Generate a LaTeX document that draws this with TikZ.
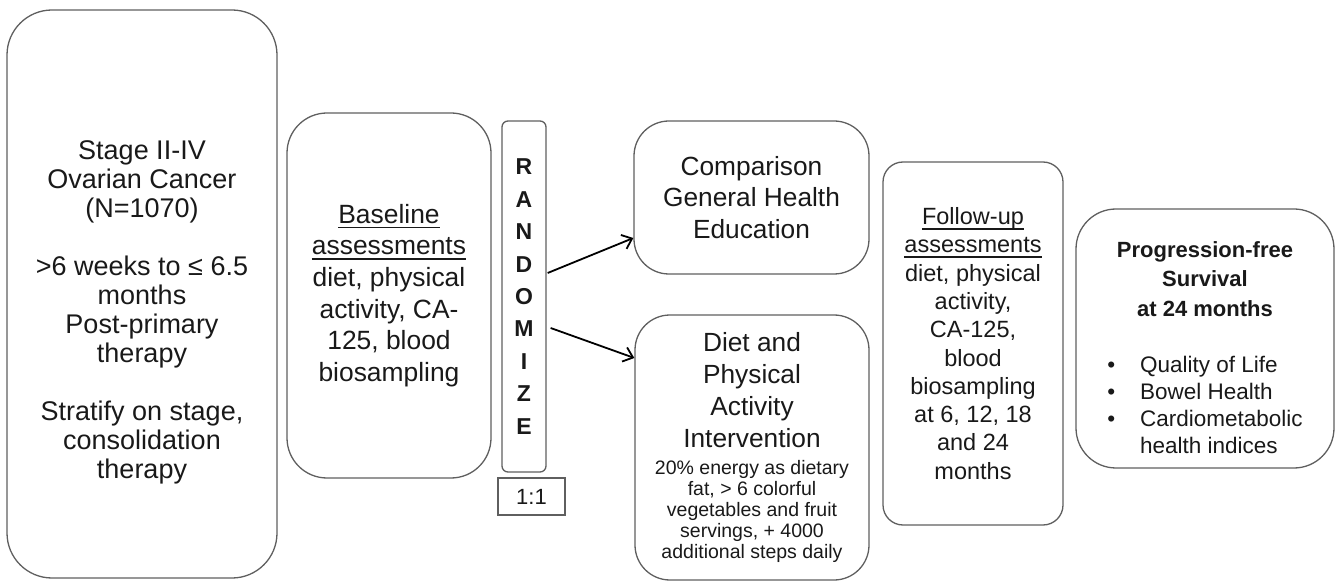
\documentclass[tikz,border=0pt]{standalone}
\usepackage{fontspec}
\setmainfont{Liberation Sans}
\usetikzlibrary{arrows.meta}
\definecolor{edge}{RGB}{95,95,95}
\definecolor{ink}{RGB}{25,25,25}
\newcommand{\myul}[1]{\leavevmode\setbox0=\hbox{#1}\rlap{\rule[-5pt]{\wd0}{1.5pt}}\box0}
\newcommand{\ctext}[2]{\parbox{#1}{\centering #2\par}}
\begin{document}
\begin{tikzpicture}[x=1pt,y=-1pt,
  box/.style={draw=edge, line width=1.3pt, rounded corners=#1, inner sep=0pt, text=ink},
  box/.default=35pt,
  arr/.style={-{Straight Barb[length=9pt,width=15pt]}, line width=1.8pt, black}]
\useasboundingbox (0,0) rectangle (1342,585);

\node[box=45pt, minimum width=270pt, minimum height=568pt] (pop) at (142,294)
  {\ctext{262pt}{\vspace*{36pt}\fontsize{27}{29}\selectfont Stage II-IV\\Ovarian Cancer\\(N=1070)\\[29pt]>6 weeks to ≤ 6.5\\months\\Post-primary\\therapy\\[29pt]Stratify on stage,\\consolidation\\therapy}};

\node[box=40pt, minimum width=204pt, minimum height=365pt] (base) at (389,295.5)
  {\ctext{198pt}{\fontsize{26.4}{31.7}\selectfont \myul{Baseline}\\\myul{assessments}\\diet, physical\\activity, CA-\\125, blood\\biosampling}};

\node[box=6pt, minimum width=44pt, minimum height=351pt] (rand) at (524,296.5)
  {\ctext{40pt}{\bfseries\fontsize{23}{32.4}\selectfont R\\A\\N\\D\\O\\M\\I\\Z\\E}};

\node[draw=edge, line width=1.1pt, minimum width=67pt, minimum height=37pt, inner sep=0pt, text=ink, font=\fontsize{22}{24}\selectfont] (ratio) at (531.5,496.5) {1:1};

\node[box=35pt, minimum width=235pt, minimum height=153pt] (comp) at (751.5,197.5)
  {\ctext{225pt}{\fontsize{26.3}{31.7}\selectfont Comparison\\General Health\\Education}};

\node[box=35pt, minimum width=234pt, minimum height=265pt] (diet) at (752,447.5)
  {\ctext{228pt}{{\fontsize{26.3}{32}\selectfont Diet and\\Physical\\Activity\\Intervention\par}\vspace{6pt}{\fontsize{19.5}{21}\selectfont 20\% energy as dietary\\fat, > 6 colorful\\vegetables and fruit\\servings, + 4000\\additional steps daily\par}}};

\node[box=20pt, minimum width=180pt, minimum height=363pt] (fu) at (973,343.5)
  {\ctext{176pt}{\fontsize{23.5}{28.3}\selectfont \myul{Follow-up}\\\myul{assessments}\\diet, physical\\activity,\\CA-125,\\blood\\biosampling\\at 6, 12, 18\\and 24\\months}};

\node[box=40pt, minimum width=258pt, minimum height=259pt] (pfs) at (1205,338.5)
  {\ctext{250pt}{\vspace*{26pt}{\bfseries\fontsize{22}{29.5}\selectfont Progression-free\\Survival\\at 24 months\par}\vspace{29pt}{\fontsize{22.5}{27}\selectfont\begin{tabular}[t]{@{}l@{\hspace{25pt}}l@{}}•&Quality of Life\\•&Bowel Health\\•&Cardiometabolic\\&health indices\end{tabular}\par}}};

\draw[arr] ([xshift=1pt,yshift=23.5pt]rand.east) -- ([yshift=-40.5pt]comp.west);
\draw[arr] ([xshift=4pt,yshift=-31.5pt]rand.east) -- ([yshift=89.5pt]diet.west);
\end{tikzpicture}
\end{document}
